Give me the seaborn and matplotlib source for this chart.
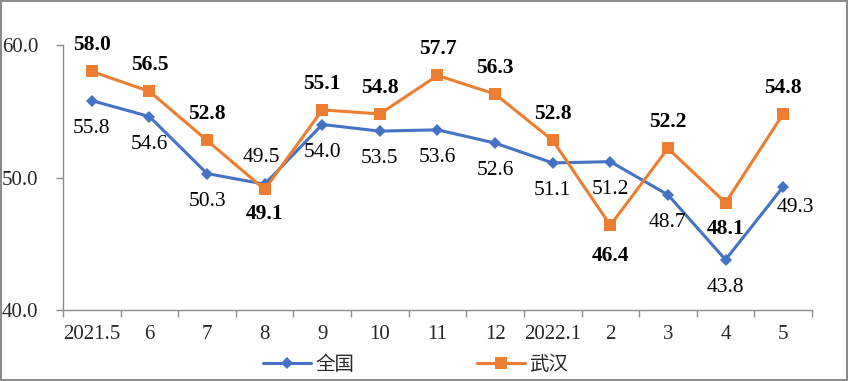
import matplotlib
matplotlib.use("Agg")
import matplotlib.pyplot as plt
import seaborn as sns
import pandas as pd

# Data
months = ["2021.5", "6", "7", "8", "9", "10", "11", "12", "2022.1", "2", "3", "4", "5"]
national = [55.8, 54.6, 50.3, 49.5, 54.0, 53.5, 53.6, 52.6, 51.1, 51.2, 48.7, 43.8, 49.3]
wuhan = [58.0, 56.5, 52.8, 49.1, 55.1, 54.8, 57.7, 56.3, 52.8, 46.4, 52.2, 48.1, 54.8]
series_names = ["全国", "武汉"]

BLUE = "#4472C4"
ORANGE = "#ED7D31"

sns.set_theme(style="white")
plt.rcParams["font.family"] = ["Liberation Serif", "Noto Sans CJK SC"]

df = pd.DataFrame({
    "idx": list(range(len(months))) * 2,
    "value": national + wuhan,
    "series": [series_names[0]] * len(months) + [series_names[1]] * len(months),
})

fig = plt.figure(figsize=(8.48, 3.81), dpi=100)
fig.patch.set_edgecolor("#8c8c8c")
fig.patch.set_linewidth(1.5)
ax = fig.add_axes([0.0743, 0.186, 0.8832, 0.696])

sns.lineplot(data=df, x="idx", y="value", hue="series", style="series",
             palette={series_names[0]: BLUE, series_names[1]: ORANGE},
             markers={series_names[0]: "D", series_names[1]: "s"},
             dashes=False, linewidth=2.2, markersize=7, markeredgewidth=0,
             ax=ax)
# square markers a bit bigger
for line in ax.get_lines():
    if line.get_marker() == "s":
        line.set_markersize(8.5)
    elif line.get_marker() == "D":
        line.set_markersize(6)

# data labels
blue_off = {3: (-2, 19), 12: (9, -15)}
orange_off = {3: (0, -18), 9: (0, -22), 11: (0, -19)}
for i, v in enumerate(national):
    dx, dy = blue_off.get(i, (0, -20))
    ax.annotate(f"{v:.1f}", (i, v), xytext=(dx, dy), textcoords="offset points",
                ha="center", va="center", fontsize=15.5, color="black")
for i, v in enumerate(wuhan):
    dx, dy = orange_off.get(i, (0, 19))
    ax.annotate(f"{v:.1f}", (i, v), xytext=(dx, dy), textcoords="offset points",
                ha="center", va="center", fontsize=15.5, color="black",
                fontweight="bold")

ax.set_ylim(40, 60)
ax.set_xlim(-0.5, len(months) - 0.5)
ax.set_yticks([40, 50, 60])
ax.set_yticklabels([f"{t:.1f}" for t in [40, 50, 60]], fontsize=15)
ax.set_xticks(range(len(months)))
ax.set_xticklabels(months, fontsize=15)
ax.set_xticks([i - 0.5 for i in range(len(months) + 1)], minor=True)
ax.tick_params(axis="x", which="major", length=0, pad=11)
ax.tick_params(axis="x", which="minor", length=5, width=1, color="#8c8c8c",
               direction="out", bottom=True)
ax.tick_params(axis="y", length=5, width=1, color="#8c8c8c", direction="out",
               left=True, pad=13)
ax.set_xlabel("")
ax.set_ylabel("")
for s in ["top", "right"]:
    ax.spines[s].set_visible(False)
for s in ["left", "bottom"]:
    ax.spines[s].set_color("#8c8c8c")
    ax.spines[s].set_linewidth(1)

ax.get_legend().remove()
handles, labels = ax.get_legend_handles_labels()
fig.legend(handles, labels, loc="lower center", bbox_to_anchor=(0.49, -0.03),
           ncol=2, frameon=False, handlelength=2.5, handletextpad=0.2,
           columnspacing=6.3, prop={"family": ["Noto Sans CJK SC"], "size": 14})

fig.savefig("out.png", dpi=100, edgecolor=fig.get_edgecolor())
